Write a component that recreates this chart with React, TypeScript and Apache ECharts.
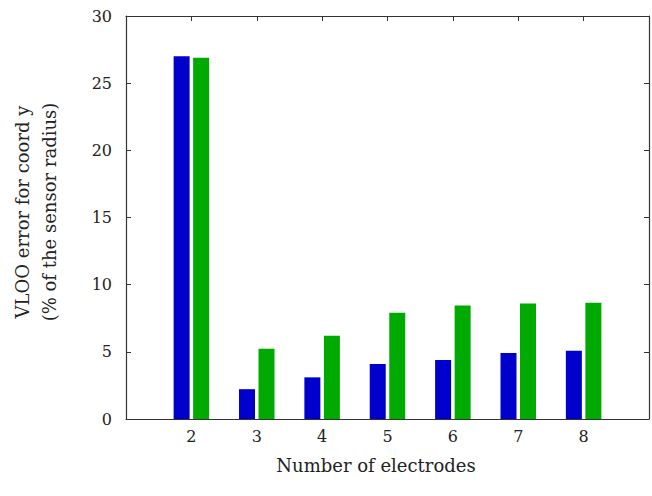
import React, { useEffect, useRef } from "react";
import * as echarts from "echarts";

const electrodes = [2, 3, 4, 5, 6, 7, 8];
const seriesBlue = [27.0, 2.22, 3.1, 4.1, 4.39, 4.91, 5.08];
const seriesGreen = [26.9, 5.23, 6.2, 7.91, 8.44, 8.59, 8.66];
const yTicks = [0, 5, 10, 15, 20, 25, 30];
const xAxisTitle = "Number of electrodes";
const yAxisTitle = ["VLOO error for coord y", "(% of the sensor radius)"];

const FONT = "DejaVu Serif";
const AXIS_COLOR = "#333333";

export default function App() {
  const ref = useRef<HTMLDivElement>(null);
  useEffect(() => {
    document.body.style.margin = "0";
    const chart = echarts.init(ref.current!, undefined, { renderer: "svg" });
    const labelFmt = (v: number) => (electrodes.includes(v) ? String(v) : "");
    chart.setOption({
      animation: false,
      backgroundColor: "#ffffff",
      textStyle: { fontFamily: FONT },
      grid: { left: 126, right: -2, top: 16, bottom: 77, containLabel: false },
      xAxis: [
        {
          type: "value",
          position: "bottom",
          min: 1,
          max: 9,
          interval: 1,
          splitLine: { show: false },
          axisLine: { show: true, onZero: false, lineStyle: { color: AXIS_COLOR, width: 1.2 } },
          axisTick: { show: false },
          axisLabel: { formatter: labelFmt, fontFamily: FONT, fontSize: 16, color: "#222", margin: 9 },
        },
        {
          type: "value",
          position: "top",
          min: 1,
          max: 9,
          interval: 1,
          splitLine: { show: false },
          axisLine: { show: true, onZero: false, lineStyle: { color: AXIS_COLOR, width: 1.2 } },
          axisTick: { show: true, inside: true, length: 5, lineStyle: { color: AXIS_COLOR } },
          axisLabel: { show: false },
        },
      ],
      yAxis: [
        {
          type: "value",
          position: "left",
          min: 0,
          max: 30,
          interval: 5,
          splitLine: { show: false },
          axisLine: { show: true, onZero: false, lineStyle: { color: AXIS_COLOR, width: 1.2 } },
          axisTick: { show: true, inside: true, length: 5, lineStyle: { color: AXIS_COLOR } },
          axisLabel: {
            formatter: (v: number) => (yTicks.includes(v) ? String(v) : ""),
            fontFamily: FONT,
            fontSize: 16,
            color: "#222",
            margin: 14,
          },
        },
        {
          type: "value",
          position: "right",
          min: 0,
          max: 30,
          interval: 5,
          splitLine: { show: false },
          axisLine: { show: true, onZero: false, lineStyle: { color: AXIS_COLOR, width: 1.2 } },
          axisTick: { show: true, inside: true, length: 5, lineStyle: { color: AXIS_COLOR } },
          axisLabel: { show: false },
        },
      ],
      graphic: [
        {
          type: "text",
          x: 376,
          y: 465,
          style: {
            text: xAxisTitle,
            fontFamily: FONT,
            fontSize: 18,
            fill: "#222",
            align: "center",
            verticalAlign: "middle",
          },
        },
        {
          type: "text",
          x: 22,
          y: 212,
          rotation: Math.PI / 2,
          style: {
            text: yAxisTitle[0],
            fontFamily: FONT,
            fontSize: 18,
            fill: "#222",
            align: "center",
            verticalAlign: "middle",
          },
        },
        {
          type: "text",
          x: 49,
          y: 212,
          rotation: Math.PI / 2,
          style: {
            text: yAxisTitle[1],
            fontFamily: FONT,
            fontSize: 18,
            fill: "#222",
            align: "center",
            verticalAlign: "middle",
          },
        },
      ],
      series: [
        {
          type: "bar",
          xAxisIndex: 0,
          yAxisIndex: 0,
          data: electrodes.map((e, i) => [e, seriesBlue[i]]),
          barWidth: 16,
          barGap: "22%",
          itemStyle: { color: "#0000cc" },
        },
        {
          type: "bar",
          xAxisIndex: 0,
          yAxisIndex: 0,
          data: electrodes.map((e, i) => [e, seriesGreen[i]]),
          barWidth: 16,
          barGap: "22%",
          itemStyle: { color: "#00aa00" },
        },
      ],
    });
    return () => chart.dispose();
  }, []);
  return <div ref={ref} style={{ width: 652, height: 496 }} />;
}
